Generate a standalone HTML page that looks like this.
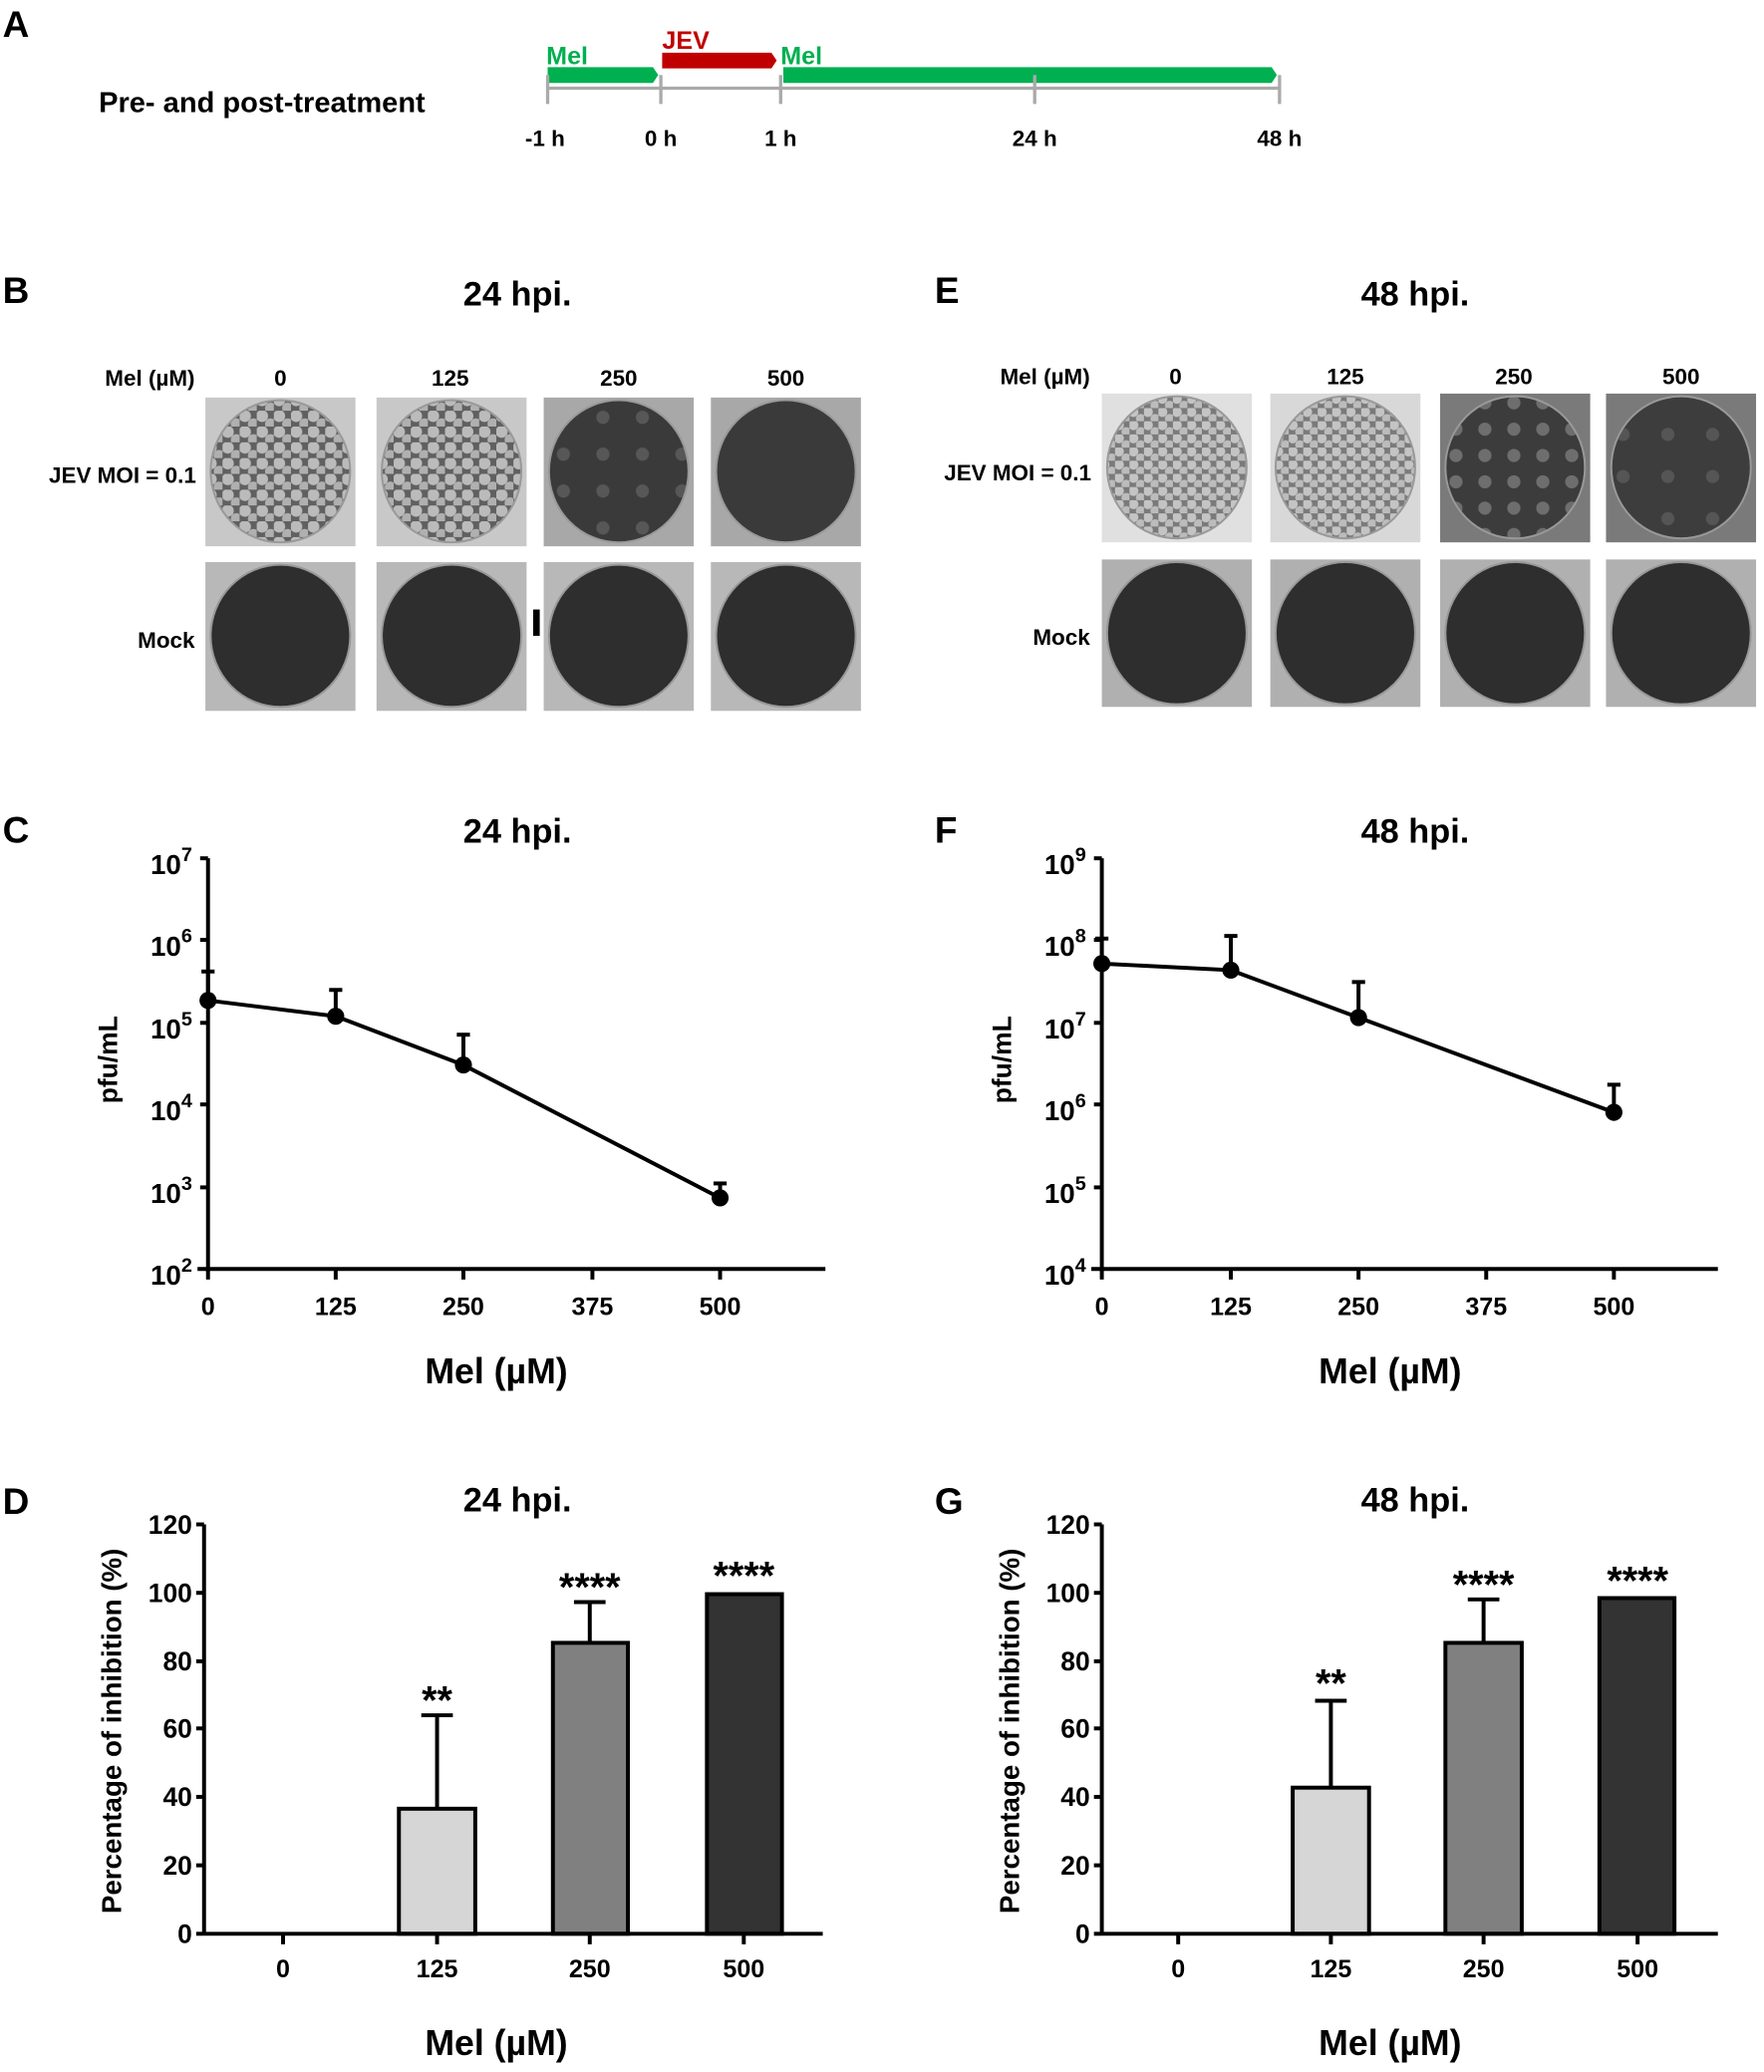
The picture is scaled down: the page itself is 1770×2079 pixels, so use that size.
<!DOCTYPE html>
<html><head><meta charset="utf-8"><style>html,body{margin:0;padding:0;background:#fff}svg{display:block}text{font-family:"Liberation Sans",sans-serif;font-weight:bold}</style></head><body>
<svg width="1770" height="2079" viewBox="0 0 1340 1574" xmlns="http://www.w3.org/2000/svg">
<defs>
<pattern id="p1" width="13" height="12" patternUnits="userSpaceOnUse"><rect width="13" height="12" fill="#606060"/><circle cx="4" cy="4" r="4.6" fill="#bbb"/><circle cx="10.5" cy="10" r="4.2" fill="#b0b0b0"/></pattern>
<pattern id="p2" width="11" height="10" patternUnits="userSpaceOnUse"><rect width="11" height="10" fill="#7a7a7a"/><circle cx="3" cy="3" r="3.8" fill="#c4c4c4"/><circle cx="8.5" cy="8" r="3.6" fill="#bcbcbc"/></pattern>
<pattern id="p3" width="30" height="28" patternUnits="userSpaceOnUse"><rect width="30" height="28" fill="#3a3a3a"/><circle cx="8" cy="9" r="5" fill="#575757"/></pattern>
<pattern id="p4" width="22" height="20" patternUnits="userSpaceOnUse"><rect width="22" height="20" fill="#3c3c3c"/><circle cx="6" cy="6" r="5" fill="#6e6e6e"/></pattern>
<pattern id="p5" width="34" height="32" patternUnits="userSpaceOnUse"><rect width="34" height="32" fill="#3d3d3d"/><circle cx="9" cy="10" r="5" fill="#555"/></pattern>
</defs>
<rect width="1340" height="1574" fill="#fff"/>
<!-- Panel A -->
<text x="2" y="28" font-size="28">A</text>
<text x="75" y="85" font-size="22">Pre- and post-treatment</text>
<polygon points="416,51 496,51 500,57 496,63 416,63" fill="#00b050"/>
<polygon points="503,40 586,40 590,46 586,52 503,52" fill="#c00000"/>
<polygon points="595,51 966,51 970,57 966,63 595,63" fill="#00b050"/>
<text x="415" y="49" font-size="19" fill="#00b050">Mel</text>
<text x="503" y="37" font-size="19" fill="#c00000">JEV</text>
<text x="593" y="49" font-size="19" fill="#00b050">Mel</text>
<g stroke="#aaa" stroke-width="2.5"><line x1="416" y1="67" x2="972" y2="67"/><line x1="416" y1="57" x2="416" y2="79"/><line x1="502" y1="57" x2="502" y2="79"/><line x1="593" y1="57" x2="593" y2="79"/><line x1="786" y1="57" x2="786" y2="79"/><line x1="972" y1="57" x2="972" y2="79"/></g>
<g font-size="17" text-anchor="middle"><text x="414" y="111">-1 h</text><text x="502" y="111">0 h</text><text x="593" y="111">1 h</text><text x="786" y="111">24 h</text><text x="972" y="111">48 h</text></g>
<!-- Panel B/E headers -->
<text x="2" y="230" font-size="28">B</text>
<text x="393" y="232" font-size="26" text-anchor="middle">24 hpi.</text>
<text x="710" y="230" font-size="28">E</text>
<text x="1075" y="232" font-size="26" text-anchor="middle">48 hpi.</text>
<g font-size="17" text-anchor="end"><text x="148" y="293">Mel (µM)</text><text x="149" y="367">JEV MOI = 0.1</text><text x="148" y="492">Mock</text>
<text x="828" y="292">Mel (µM)</text><text x="829" y="365">JEV MOI = 0.1</text><text x="828" y="490">Mock</text></g>
<g font-size="17" text-anchor="middle"><text x="213" y="293">0</text><text x="342" y="293">125</text><text x="470" y="293">250</text><text x="597" y="293">500</text>
<text x="893" y="292">0</text><text x="1022" y="292">125</text><text x="1150" y="292">250</text><text x="1277" y="292">500</text></g>
<!-- plates -->
<g stroke="#999" stroke-width="1.5">
<rect x="156" y="302" width="114" height="113" fill="#c8c8c8" stroke="none"/><ellipse cx="213" cy="358" rx="53" ry="54" fill="url(#p1)"/>
<rect x="286" y="302" width="114" height="113" fill="#c8c8c8" stroke="none"/><ellipse cx="343" cy="358" rx="53" ry="54" fill="url(#p1)"/>
<rect x="413" y="302" width="114" height="113" fill="#a8a8a8" stroke="none"/><ellipse cx="470" cy="358" rx="53" ry="54" fill="url(#p3)"/>
<rect x="540" y="302" width="114" height="113" fill="#a8a8a8" stroke="none"/><ellipse cx="597" cy="358" rx="53" ry="54" fill="#3a3a3a"/>
<rect x="156" y="427" width="114" height="113" fill="#b8b8b8" stroke="none"/><ellipse cx="213" cy="483" rx="53" ry="54" fill="#2e2e2e"/>
<rect x="286" y="427" width="114" height="113" fill="#b8b8b8" stroke="none"/><ellipse cx="343" cy="483" rx="53" ry="54" fill="#2e2e2e"/>
<rect x="413" y="427" width="114" height="113" fill="#b8b8b8" stroke="none"/><ellipse cx="470" cy="483" rx="53" ry="54" fill="#2e2e2e"/>
<rect x="540" y="427" width="114" height="113" fill="#b8b8b8" stroke="none"/><ellipse cx="597" cy="483" rx="53" ry="54" fill="#2e2e2e"/>
<rect x="837" y="299" width="114" height="113" fill="#e0e0e0" stroke="none"/><ellipse cx="894" cy="355" rx="53" ry="54" fill="url(#p2)"/>
<rect x="965" y="299" width="114" height="113" fill="#d8d8d8" stroke="none"/><ellipse cx="1022" cy="355" rx="53" ry="54" fill="url(#p2)"/>
<rect x="1094" y="299" width="114" height="113" fill="#7a7a7a" stroke="none"/><ellipse cx="1151" cy="355" rx="53" ry="54" fill="url(#p4)"/>
<rect x="1220" y="299" width="114" height="113" fill="#7a7a7a" stroke="none"/><ellipse cx="1277" cy="355" rx="53" ry="54" fill="url(#p5)"/>
<rect x="837" y="425" width="114" height="112" fill="#b0b0b0" stroke="none"/><ellipse cx="894" cy="481" rx="53" ry="54" fill="#2e2e2e"/>
<rect x="965" y="425" width="114" height="112" fill="#b0b0b0" stroke="none"/><ellipse cx="1022" cy="481" rx="53" ry="54" fill="#2e2e2e"/>
<rect x="1094" y="425" width="114" height="112" fill="#b0b0b0" stroke="none"/><ellipse cx="1151" cy="481" rx="53" ry="54" fill="#2e2e2e"/>
<rect x="1220" y="425" width="114" height="112" fill="#b0b0b0" stroke="none"/><ellipse cx="1277" cy="481" rx="53" ry="54" fill="#2e2e2e"/>
</g>
<rect x="405" y="463" width="5" height="20" fill="#000"/>
<!-- Panel C -->
<text x="2" y="640" font-size="28">C</text>
<text x="393" y="640" font-size="26" text-anchor="middle">24 hpi.</text>
<g stroke="#000" stroke-width="3" fill="none">
<line x1="158" y1="652" x2="158" y2="966"/><line x1="150" y1="964" x2="627" y2="964"/>
<line x1="152" y1="652" x2="158" y2="652"/><line x1="152" y1="714" x2="158" y2="714"/><line x1="152" y1="777" x2="158" y2="777"/><line x1="152" y1="839" x2="158" y2="839"/><line x1="152" y1="902" x2="158" y2="902"/>
<line x1="158" y1="964" x2="158" y2="972"/><line x1="255" y1="964" x2="255" y2="972"/><line x1="352" y1="964" x2="352" y2="972"/><line x1="450" y1="964" x2="450" y2="972"/><line x1="547" y1="964" x2="547" y2="972"/>
<polyline points="158,760 255,772 352,809 547,910"/>
<line x1="158" y1="760" x2="158" y2="738"/><line x1="153" y1="738" x2="163" y2="738"/>
<line x1="255" y1="772" x2="255" y2="752"/><line x1="250" y1="752" x2="260" y2="752"/>
<line x1="352" y1="809" x2="352" y2="786"/><line x1="347" y1="786" x2="357" y2="786"/>
<line x1="547" y1="910" x2="547" y2="899"/><line x1="542" y1="899" x2="552" y2="899"/>
</g>
<g fill="#000"><circle cx="158" cy="760" r="6.5"/><circle cx="255" cy="772" r="6.5"/><circle cx="352" cy="809" r="6.5"/><circle cx="547" cy="910" r="6.5"/></g>
<g font-size="21" text-anchor="end"><text x="146" y="664">10<tspan font-size="15" dy="-10">7</tspan></text><text x="146" y="726">10<tspan font-size="15" dy="-10">6</tspan></text><text x="146" y="789">10<tspan font-size="15" dy="-10">5</tspan></text><text x="146" y="851">10<tspan font-size="15" dy="-10">4</tspan></text><text x="146" y="914">10<tspan font-size="15" dy="-10">3</tspan></text><text x="146" y="976">10<tspan font-size="15" dy="-10">2</tspan></text></g>
<g font-size="19" text-anchor="middle"><text x="158" y="999">0</text><text x="255" y="999">125</text><text x="352" y="999">250</text><text x="450" y="999">375</text><text x="547" y="999">500</text></g>
<text transform="translate(89,805) rotate(-90)" font-size="20" text-anchor="middle">pfu/mL</text>
<text x="377" y="1051" font-size="27" text-anchor="middle">Mel (µM)</text>
<!-- Panel F -->
<text x="710" y="640" font-size="28">F</text>
<text x="1075" y="640" font-size="26" text-anchor="middle">48 hpi.</text>
<g stroke="#000" stroke-width="3" fill="none">
<line x1="837" y1="652" x2="837" y2="966"/><line x1="829" y1="964" x2="1305" y2="964"/>
<line x1="831" y1="652" x2="837" y2="652"/><line x1="831" y1="714" x2="837" y2="714"/><line x1="831" y1="777" x2="837" y2="777"/><line x1="831" y1="839" x2="837" y2="839"/><line x1="831" y1="902" x2="837" y2="902"/>
<line x1="837" y1="964" x2="837" y2="972"/><line x1="935" y1="964" x2="935" y2="972"/><line x1="1032" y1="964" x2="1032" y2="972"/><line x1="1129" y1="964" x2="1129" y2="972"/><line x1="1226" y1="964" x2="1226" y2="972"/>
<polyline points="837,732 935,737 1032,773 1226,845"/>
<line x1="837" y1="732" x2="837" y2="713"/><line x1="832" y1="713" x2="842" y2="713"/>
<line x1="935" y1="737" x2="935" y2="711"/><line x1="930" y1="711" x2="940" y2="711"/>
<line x1="1032" y1="773" x2="1032" y2="746"/><line x1="1027" y1="746" x2="1037" y2="746"/>
<line x1="1226" y1="845" x2="1226" y2="824"/><line x1="1221" y1="824" x2="1231" y2="824"/>
</g>
<g fill="#000"><circle cx="837" cy="732" r="6.5"/><circle cx="935" cy="737" r="6.5"/><circle cx="1032" cy="773" r="6.5"/><circle cx="1226" cy="845" r="6.5"/></g>
<g font-size="21" text-anchor="end"><text x="825" y="664">10<tspan font-size="15" dy="-10">9</tspan></text><text x="825" y="726">10<tspan font-size="15" dy="-10">8</tspan></text><text x="825" y="789">10<tspan font-size="15" dy="-10">7</tspan></text><text x="825" y="851">10<tspan font-size="15" dy="-10">6</tspan></text><text x="825" y="914">10<tspan font-size="15" dy="-10">5</tspan></text><text x="825" y="976">10<tspan font-size="15" dy="-10">4</tspan></text></g>
<g font-size="19" text-anchor="middle"><text x="837" y="999">0</text><text x="935" y="999">125</text><text x="1032" y="999">250</text><text x="1129" y="999">375</text><text x="1226" y="999">500</text></g>
<text transform="translate(768,805) rotate(-90)" font-size="20" text-anchor="middle">pfu/mL</text>
<text x="1056" y="1051" font-size="27" text-anchor="middle">Mel (µM)</text>
<!-- Panel D -->
<text x="2" y="1150" font-size="28">D</text>
<text x="393" y="1148" font-size="26" text-anchor="middle">24 hpi.</text>
<g stroke="#000" stroke-width="3">
<rect x="303" y="1374" width="58" height="95" fill="#d6d6d6"/>
<rect x="420" y="1248" width="57" height="221" fill="#808080"/>
<rect x="537" y="1211" width="57" height="258" fill="#333"/>
<line x1="332" y1="1374" x2="332" y2="1303"/><line x1="320" y1="1303" x2="344" y2="1303"/>
<line x1="448" y1="1248" x2="448" y2="1217"/><line x1="436" y1="1217" x2="460" y2="1217"/>
<line x1="155" y1="1158" x2="155" y2="1470"/><line x1="155" y1="1469" x2="625" y2="1469"/>
<line x1="149" y1="1158" x2="155" y2="1158"/><line x1="149" y1="1210" x2="155" y2="1210"/><line x1="149" y1="1262" x2="155" y2="1262"/><line x1="149" y1="1313" x2="155" y2="1313"/><line x1="149" y1="1365" x2="155" y2="1365"/><line x1="149" y1="1417" x2="155" y2="1417"/><line x1="149" y1="1469" x2="155" y2="1469"/>
<line x1="215" y1="1469" x2="215" y2="1477"/><line x1="332" y1="1469" x2="332" y2="1477"/><line x1="448" y1="1469" x2="448" y2="1477"/><line x1="565" y1="1469" x2="565" y2="1477"/>
</g>
<g font-size="20" text-anchor="end"><text x="146" y="1165">120</text><text x="146" y="1217">100</text><text x="146" y="1269">80</text><text x="146" y="1320">60</text><text x="146" y="1372">40</text><text x="146" y="1424">20</text><text x="146" y="1476">0</text></g>
<g font-size="19" text-anchor="middle"><text x="215" y="1502">0</text><text x="332" y="1502">125</text><text x="448" y="1502">250</text><text x="565" y="1502">500</text></g>
<g font-size="30" text-anchor="middle" font-weight="normal"><text x="332" y="1302">**</text><text x="448" y="1216">****</text><text x="565" y="1207">****</text></g>
<text transform="translate(92,1315) rotate(-90)" font-size="21" text-anchor="middle">Percentage of inhibition (%)</text>
<text x="377" y="1561" font-size="27" text-anchor="middle">Mel (µM)</text>
<!-- Panel G -->
<text x="710" y="1150" font-size="28">G</text>
<text x="1075" y="1148" font-size="26" text-anchor="middle">48 hpi.</text>
<g stroke="#000" stroke-width="3">
<rect x="982" y="1358" width="58" height="111" fill="#d6d6d6"/>
<rect x="1098" y="1248" width="58" height="221" fill="#808080"/>
<rect x="1215" y="1214" width="57" height="255" fill="#333"/>
<line x1="1011" y1="1358" x2="1011" y2="1292"/><line x1="999" y1="1292" x2="1023" y2="1292"/>
<line x1="1127" y1="1248" x2="1127" y2="1215"/><line x1="1115" y1="1215" x2="1139" y2="1215"/>
<line x1="837" y1="1158" x2="837" y2="1470"/><line x1="837" y1="1469" x2="1305" y2="1469"/>
<line x1="831" y1="1158" x2="837" y2="1158"/><line x1="831" y1="1210" x2="837" y2="1210"/><line x1="831" y1="1262" x2="837" y2="1262"/><line x1="831" y1="1313" x2="837" y2="1313"/><line x1="831" y1="1365" x2="837" y2="1365"/><line x1="831" y1="1417" x2="837" y2="1417"/><line x1="831" y1="1469" x2="837" y2="1469"/>
<line x1="895" y1="1469" x2="895" y2="1477"/><line x1="1011" y1="1469" x2="1011" y2="1477"/><line x1="1127" y1="1469" x2="1127" y2="1477"/><line x1="1244" y1="1469" x2="1244" y2="1477"/>
</g>
<g font-size="20" text-anchor="end"><text x="828" y="1165">120</text><text x="828" y="1217">100</text><text x="828" y="1269">80</text><text x="828" y="1320">60</text><text x="828" y="1372">40</text><text x="828" y="1424">20</text><text x="828" y="1476">0</text></g>
<g font-size="19" text-anchor="middle"><text x="895" y="1502">0</text><text x="1011" y="1502">125</text><text x="1127" y="1502">250</text><text x="1244" y="1502">500</text></g>
<g font-size="30" text-anchor="middle" font-weight="normal"><text x="1011" y="1289">**</text><text x="1127" y="1214">****</text><text x="1244" y="1211">****</text></g>
<text transform="translate(774,1315) rotate(-90)" font-size="21" text-anchor="middle">Percentage of inhibition (%)</text>
<text x="1056" y="1561" font-size="27" text-anchor="middle">Mel (µM)</text>
</svg>
</body></html>
